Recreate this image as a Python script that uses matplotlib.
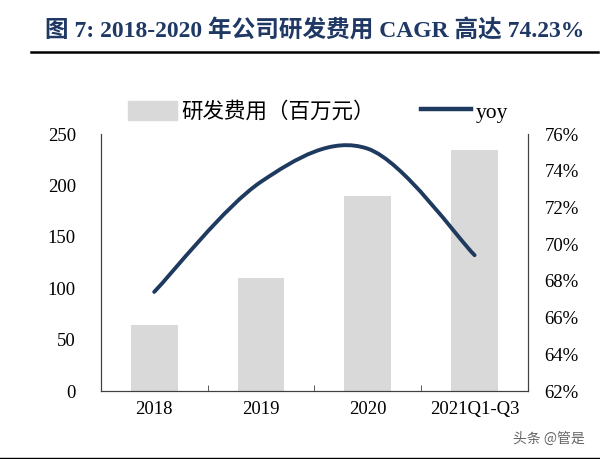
from matplotlib import pyplot as plt
from matplotlib.path import Path
from matplotlib.patches import PathPatch
from matplotlib.lines import Line2D
from matplotlib.patches import Patch
import numpy as np

## DATA
years = ['2018', '2019', '2020', '2021Q1-Q3']
rd_cost = [64, 110, 190, 234]          # 研发费用（百万元）
yoy = [67.4, 73.4, 75.2, 69.4]          # %

left_ticks = [0, 50, 100, 150, 200, 250]
right_ticks = [62, 64, 66, 68, 70, 72, 74, 76]

## STYLE
serif = ['Liberation Serif', 'Noto Sans CJK SC']
cjk = ['Noto Sans CJK SC', 'DejaVu Sans']
navy = '#1f3a5f'
bar_c = '#d9d9d9'
axis_c = '#404040'

fig = plt.figure(figsize=(6, 4.59), dpi=100)

## TITLE + RULE
fig.text(0.525, 0.933, '图 7: 2018-2020 年公司研发费用 CAGR 高达 74.23%',
         ha='center', va='center', fontsize=17, fontweight='bold',
         color='#1f3864', family=['Liberation Serif', 'Noto Sans CJK SC'])
fig.add_artist(Line2D([0.052, 0.997], [0.887, 0.887], transform=fig.transFigure,
                      color='black', lw=1.8))
fig.add_artist(Line2D([0.0, 1.0], [0.003, 0.003], transform=fig.transFigure,
                      color='black', lw=1.0))

ax = fig.add_axes([0.168, 0.148, 0.712, 0.56])
x = np.arange(len(years))
ax.bar(x, rd_cost, width=0.44, color=bar_c, zorder=1)
ax.set_xlim(-0.5, len(years) - 0.5)
ax.set_ylim(0, 250)
ax.set_yticks(left_ticks)
ax.set_xticks(x)
ax.set_xticklabels(years)
ax.set_xticks(np.arange(0.5, len(years) - 1, 1), minor=True)
ax.tick_params(axis='x', which='major', length=0, pad=7)
ax.tick_params(axis='x', which='minor', direction='in', length=4, color=axis_c)
ax.tick_params(axis='y', length=0, pad=18)
for lab in ax.get_xticklabels() + ax.get_yticklabels():
    lab.set_family(serif)
    lab.set_fontsize(13.5)
ax.spines['top'].set_visible(False)
for s in ['left', 'bottom', 'right']:
    ax.spines[s].set_color(axis_c)

ax2 = ax.twinx()
ax2.set_ylim(62, 76)
ax2.set_yticks(right_ticks)
ax2.set_yticklabels([f'{t}%' for t in right_ticks])
ax2.tick_params(axis='y', length=0, pad=12)
for lab in ax2.get_yticklabels():
    lab.set_family(serif)
    lab.set_fontsize(13.5)
ax2.spines['top'].set_visible(False)
for s in ['left', 'bottom', 'right']:
    ax2.spines[s].set_color(axis_c)

## smooth yoy line: Catmull-Rom through the points, drawn as bezier path
px = list(x.astype(float))
py = list(yoy)
verts = [(px[0], py[0])]
codes = [Path.MOVETO]
n = len(px)
for i in range(n - 1):
    p0 = (px[max(i - 1, 0)], py[max(i - 1, 0)])
    p1 = (px[i], py[i])
    p2 = (px[i + 1], py[i + 1])
    p3 = (px[min(i + 2, n - 1)], py[min(i + 2, n - 1)])
    c1 = (p1[0] + (p2[0] - p0[0]) / 6, p1[1] + (p2[1] - p0[1]) / 6)
    c2 = (p2[0] - (p3[0] - p1[0]) / 6, p2[1] - (p3[1] - p1[1]) / 6)
    verts += [c1, c2, p2]
    codes += [Path.CURVE4] * 3
ax2.add_patch(PathPatch(Path(verts, codes), facecolor='none', edgecolor=navy,
                        lw=2.8, capstyle='round', zorder=3))

## LEGEND
handles = [Patch(color=bar_c), Line2D([], [], color=navy, lw=3.2)]
leg = fig.legend(handles, ['研发费用（百万元）', 'yoy'], loc='center left',
                 bbox_to_anchor=(0.213, 0.756), ncol=2, frameon=False,
                 borderpad=0, borderaxespad=0,
                 handlelength=2.3, handleheight=1.0, columnspacing=2.15,
                 handletextpad=0.2, prop={'family': cjk, 'size': 15.5})
leg.get_texts()[1].set_family(['Liberation Serif'])

## WATERMARK
fig.text(0.975, 0.045, '头条 @管是', ha='right', va='center', fontsize=10,
         color='#666666', family=cjk)

plt.savefig('out.png', dpi=100)
